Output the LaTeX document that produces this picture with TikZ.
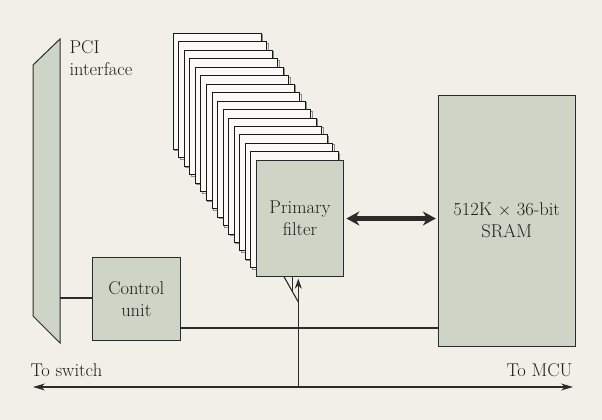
\documentclass[tikz,border=0pt]{standalone}
\usetikzlibrary{positioning, arrows.meta, calc}

\definecolor{bgcol}{HTML}{F2EFE8}
\definecolor{boxcol}{HTML}{CED5C7}
\definecolor{linecol}{HTML}{2B2B2B}
\definecolor{txtcol}{HTML}{1E1E1E}

\begin{document}
\begin{tikzpicture}[x=1pt, y=-1pt, color=linecol, text=txtcol, line width=1.1pt,
    font=\fontsize{18.5}{22}\selectfont,
    block/.style={draw=linecol, fill=boxcol, line width=1pt, align=center, inner sep=0pt},
    card/.style={draw=black!90, fill=white!60!bgcol, line width=1pt},
    lbl/.style={inner sep=0pt}]
    % Background
    \fill[bgcol] (0,0) rectangle (602,420);

    % PCI interface
    \draw[fill=boxcol, line width=1pt] (33,65) coordinate (pcitl) -- (60,39) coordinate (pcitr)
        -- (60,343) coordinate (pcibr) -- (33,316) coordinate (pcibl) -- cycle;
    \node[lbl, anchor=north west, align=left] (pcilbl) at (69,40) {PCI\\interface};

    % Stack of filters
    \foreach \i in {0,...,14} {
        \draw[black!45, line width=1pt] ($(174.8,34.8)+(5.53*\i,8.47*\i)$) rectangle ++(87.7,116);
        \draw[card] ($(173.3,33.3)+(5.53*\i,8.47*\i)$) rectangle ++(87.7,116);
    }
    \node[block, minimum width=87.7pt, minimum height=116.4pt] (filter) at (300,218.5) {Primary\\filter};

    % SRAM
    \node[block, minimum width=136.7pt, minimum height=251pt] (sram) at (506.7,220.5) {512K $\times$ 36-bit\\SRAM};

    % Control unit
    \node[block, minimum width=88pt, minimum height=83.4pt] (cu) at (136.3,299) {Control\\unit};

    % Connections
    \coordinate (pciport) at (60,298);
    \draw (pciport) -- (pciport -| cu.west);
    \draw (cu.east |- 0,328) -- (sram.west |- 0,328);
    \draw[line width=4.5pt, {Stealth[length=13pt, width=14pt]}-{Stealth[length=13pt, width=14pt]},
        shorten <=2pt, shorten >=2pt] (filter.east) -- (filter.east -| sram.west);

    % Bus
    \coordinate (toswitch) at (33,387);
    \coordinate (tomcu) at (573,387);
    \coordinate (tap) at (298.3,387);
    \draw[{Stealth[length=12pt, width=7pt]}-{Stealth[length=12pt, width=7pt]}] (toswitch) -- (tomcu);
    \draw[-{Stealth[length=10pt, width=7pt]}, shorten >=1.5pt] (tap) -- (tap |- filter.south);
    % fan-out to the stack
    \draw (284,276.7) -- (298.3,302);
    \draw (292.3,276.7) -- (292.3,291.5);

    \node[lbl, anchor=base west] (switchlbl) at (30,376.7) {To switch};
    \node[lbl, anchor=base east] (mculbl) at (573,376.7) {To MCU};
\end{tikzpicture}
\end{document}
